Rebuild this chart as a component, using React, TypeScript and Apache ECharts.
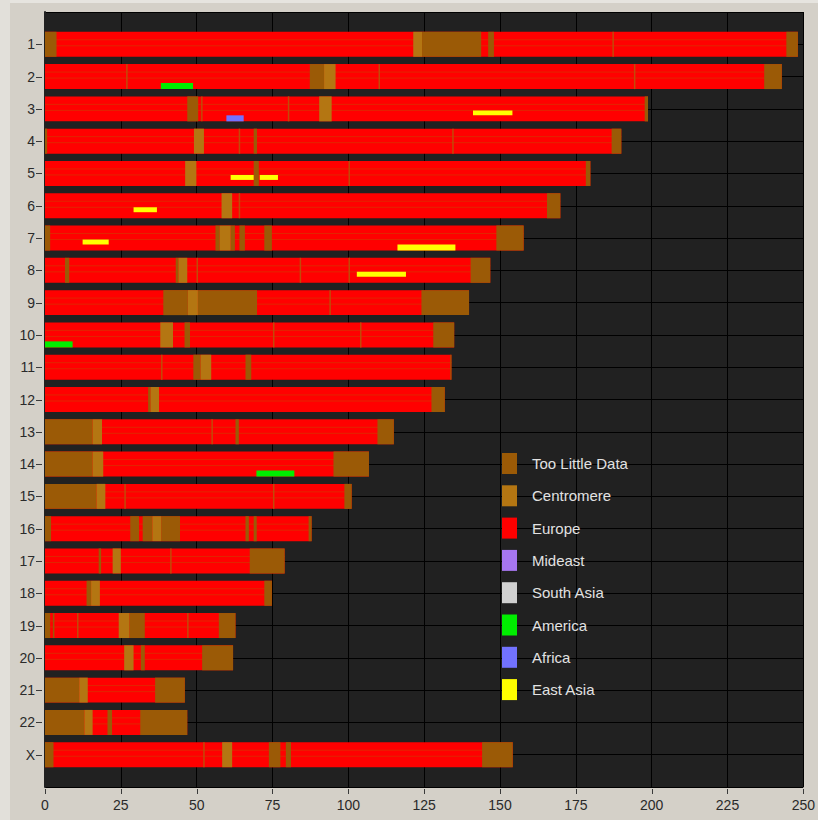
import React, { useEffect, useRef } from "react";
import * as echarts from "echarts";

// ---------- data ----------
const chromosomes = ["1","2","3","4","5","6","7","8","9","10","11","12","13","14","15","16","17","18","19","20","21","22","X"];
const chromLengths = [248.2, 242.9, 198.8, 190, 179.8, 169.9, 157.8, 146.8, 139.8, 134.9, 134, 131.8, 115, 106.8, 101.1, 87.9, 79, 74.8, 62.8, 62, 46.1, 46.9, 154.2];

const legendNames = ["Too Little Data", "Centromere", "Europe", "Mideast", "South Asia", "America", "Africa", "East Asia"];
const legendColors = ["#9b5a06", "#b47612", "#ff0000", "#a676f0", "#d0d0d0", "#00ee00", "#7272ff", "#ffff00"];

// [chromosome, start, end]
const tooLittleData: [string, number, number][] = [
  ["1", 0, 3.8], ["1", 124.3, 143.8], ["1", 146.1, 148], ["1", 244.4, 248.2],
  ["2", 87.3, 92], ["2", 237.1, 242.9],
  ["3", 46.9, 50.5], ["3", 197.7, 198.8],
  ["4", 0, 0.7], ["4", 68.8, 69.9], ["4", 186.8, 190],
  ["5", 68.8, 70.5], ["5", 178.3, 179.8],
  ["6", 165.5, 169.9],
  ["7", 0, 1.7], ["7", 56.2, 57.6], ["7", 61.2, 62.6], ["7", 64.1, 65.9], ["7", 72.3, 74.8], ["7", 148.8, 157.8],
  ["8", 6.6, 8], ["8", 43.1, 44], ["8", 140.3, 146.8],
  ["9", 39, 47.1], ["9", 50.4, 69.9], ["9", 124.1, 139.8],
  ["10", 46, 47.8], ["10", 128, 134.9],
  ["11", 48.9, 51.3], ["11", 66.1, 68], ["11", 133.6, 134],
  ["12", 34, 34.8], ["12", 127.4, 131.8],
  ["13", 0, 15.7], ["13", 62.8, 63.9], ["13", 109.6, 115],
  ["14", 0, 15.7], ["14", 95.1, 106.8],
  ["15", 0, 17], ["15", 98.7, 101.1],
  ["16", 0, 2], ["16", 28.1, 31], ["16", 32.2, 35.4], ["16", 38.3, 44.5], ["16", 66.1, 67.2], ["16", 68.8, 69.8], ["16", 86.9, 87.9],
  ["17", 17.7, 18.5], ["17", 67.5, 79],
  ["18", 13.7, 15.2], ["18", 72.3, 74.8],
  ["19", 0, 1.7], ["19", 2.6, 3.1], ["19", 27.8, 32.9], ["19", 57.3, 62.8],
  ["20", 31.6, 32.9], ["20", 51.8, 62],
  ["21", 0, 11.3], ["21", 36.3, 46.1],
  ["22", 0, 13], ["22", 20.6, 22.1], ["22", 31.4, 46.9],
  ["X", 0, 2.8], ["X", 73.8, 77.6], ["X", 79.4, 81.1], ["X", 144.1, 154.2],
];

const centromere: [string, number, number][] = [
  ["1", 121.4, 124.3], ["2", 92, 95.8], ["3", 90.4, 94.5], ["4", 49.1, 52.4], ["5", 46.2, 49.9],
  ["6", 58.2, 61.7], ["7", 57.6, 61.2], ["8", 44, 46.9], ["9", 47.1, 50.4], ["10", 38, 42.2],
  ["11", 51.3, 54.8], ["12", 34.8, 37.6], ["13", 15.7, 18.8], ["14", 15.7, 19.2], ["15", 17, 19.9],
  ["16", 35.4, 38.3], ["17", 22.3, 25], ["18", 15.2, 18.1], ["19", 24.3, 27.8], ["20", 26.1, 29.2],
  ["21", 11.3, 14.1], ["22", 13, 15.7], ["X", 58.4, 61.7],
];

// thin segment boundaries inside the painted bars: [chromosome, position]
const breakpoints: [string, number][] = [
  ["1", 187.3], ["2", 27], ["2", 110.2], ["2", 194.4], ["3", 51.7], ["3", 80.3],
  ["4", 64.1], ["4", 134.5], ["5", 100.3], ["6", 64.1], ["8", 50.2], ["8", 84.2], ["8", 100.3],
  ["9", 94], ["10", 75.4], ["10", 104.1], ["11", 38.5], ["13", 55.1], ["15", 26.4], ["15", 75.4],
  ["17", 41.5], ["19", 10.8], ["19", 47.1], ["X", 52.4],
];

// [chromosome, start, end, lane]  lane 1 = just below centre, lane 2 = lower edge
const mideast: [string, number, number, number][] = [];
const southAsia: [string, number, number, number][] = [];
const america: [string, number, number, number][] = [["2", 38.2, 48.8, 2], ["10", 0, 9.1, 2], ["14", 69.7, 82.2, 2]];
const africa: [string, number, number, number][] = [["3", 59.8, 65.5, 2]];
const eastAsia: [string, number, number, number][] = [
  ["3", 141.1, 154.1, 1], ["5", 61.2, 68.8, 1], ["5", 70.8, 76.8, 1], ["6", 29.2, 36.9, 1],
  ["7", 12.4, 21, 1], ["7", 116.2, 135.3, 2], ["8", 102.8, 119, 1],
];

const xTicks = [0, 25, 50, 75, 100, 125, 150, 175, 200, 225, 250];

// ---------- helpers ----------
const rowOf = (c: string) => chromosomes.indexOf(c) + 1;
const HALF = 0.387; // half bar height in row units
const LANES: Record<number, [number, number]> = { 0: [-HALF, HALF], 1: [0.047, 0.2], 2: [0.2, HALF] };

function band(api: any, row: number, s: number, e: number, o0: number, o1: number) {
  const a = api.coord([s, row]);
  const b = api.coord([e, row]);
  const unit = api.size([0, 1])[1];
  return { x: a[0], y: a[1] + o0 * unit, width: b[0] - a[0], height: (o1 - o0) * unit };
}

function segSeries(name: string, color: string, data: any[], z: number, withLines = false) {
  return {
    type: "custom",
    name,
    z,
    itemStyle: { color },
    encode: { x: [1, 2], y: 0 },
    data: data.map((d) => [rowOf(d[0]), d[1], d[2], d[3] ?? 0]),
    renderItem: (params: any, api: any) => {
      const row = api.value(0), s = api.value(1), e = api.value(2), lane = api.value(3);
      const [o0, o1] = LANES[lane] || LANES[0];
      const r = band(api, row, s, e, o0, o1);
      const rect = { type: "rect", shape: r, style: { fill: color } };
      if (!withLines) return rect;
      const unit = api.size([0, 1])[1];
      const c = api.coord([s, row])[1];
      const mk = (off: number) => ({
        type: "line",
        shape: { x1: r.x, y1: c + off * unit, x2: r.x + r.width, y2: c + off * unit },
        style: { stroke: "rgba(200,70,0,0.55)", lineWidth: 1 },
      });
      return { type: "group", children: [rect, mk(-0.14), mk(0.047)] };
    },
  };
}

export default function App() {
  const ref = useRef<HTMLDivElement>(null);
  useEffect(() => {
    if (!ref.current) return;
    const chart = echarts.init(ref.current, undefined, { renderer: "svg" });
    const font = "'Liberation Sans', Arial, sans-serif";
    const europe = chromosomes.map((c, i) => [c, 0, chromLengths[i], 0]);
    chart.setOption({
      animation: false,
      backgroundColor: "#d4d0c8",
      graphic: [
        { type: "rect", left: 0, top: 0, shape: { width: 818, height: 3 }, style: { fill: "#e6e4df" }, silent: true, z: -10 },
        { type: "rect", left: 0, top: 0, shape: { width: 10, height: 820 }, style: { fill: "#e2e0da" }, silent: true, z: -10 },
      ],
      grid: { left: 45, right: 11, top: 12, bottom: 33, show: true, backgroundColor: "#212121", borderWidth: 0 },
      legend: {
        data: legendNames,
        orient: "vertical",
        left: 502,
        top: 453,
        padding: 0,
        itemWidth: 15,
        itemHeight: 21,
        itemGap: 11.3,
        icon: "rect",
        selectedMode: false,
        textStyle: { color: "#e2e2e2", fontSize: 15, fontFamily: font, padding: [0, 0, 0, 10] },
      },
      xAxis: {
        type: "value",
        min: 0,
        max: 250,
        interval: 25,
        axisLine: { show: false },
        axisTick: { show: false },
        axisLabel: { margin: 11, fontSize: 14, color: "#2a2a2a", fontFamily: font },
        splitLine: { show: true, lineStyle: { color: "#000", width: 1 } },
      },
      yAxis: {
        type: "value",
        inverse: true,
        min: 0,
        max: 24,
        interval: 1,
        offset: 2,
        axisLine: { show: true, lineStyle: { color: "#212121", width: 2 } },
        axisTick: { show: false },
        axisLabel: {
          margin: 8,
          fontSize: 14,
          color: "#2a2a2a",
          fontFamily: font,
          formatter: (v: number) => chromosomes[v - 1] ?? "",
        },
        splitLine: { show: true, lineStyle: { color: "#000", width: 1 } },
      },
      series: [
        segSeries("Europe", legendColors[2], europe, 2, true),
        segSeries("Too Little Data", legendColors[0], tooLittleData, 3),
        segSeries("Centromere", legendColors[1], centromere, 3),
        {
          type: "custom",
          name: "breaks",
          z: 3,
          encode: { x: 1, y: 0 },
          data: breakpoints.map((d) => [rowOf(d[0]), d[1]]),
          renderItem: (params: any, api: any) => {
            const row = api.value(0), p = api.value(1);
            const r = band(api, row, p, p, -HALF, HALF);
            return {
              type: "line",
              shape: { x1: r.x, y1: r.y, x2: r.x, y2: r.y + r.height },
              style: { stroke: "#c24a08", lineWidth: 1.5 },
            };
          },
        },
        segSeries("Mideast", legendColors[3], mideast, 4),
        segSeries("South Asia", legendColors[4], southAsia, 4),
        segSeries("America", legendColors[5], america, 4),
        segSeries("Africa", legendColors[6], africa, 4),
        segSeries("East Asia", legendColors[7], eastAsia, 4),
        {
          // y-axis tick marks ("1-", "2-", ...)
          type: "custom",
          name: "yTicks",
          z: 5,
          clip: false,
          silent: true,
          encode: { x: 1, y: 0 },
          data: chromosomes.map((c) => [rowOf(c), 0]),
          renderItem: (params: any, api: any) => {
            const p = api.coord([api.value(1), api.value(0)]);
            return {
              type: "line",
              shape: { x1: p[0] - 9, y1: Math.round(p[1]) + 0.5, x2: p[0] - 3, y2: Math.round(p[1]) + 0.5 },
              style: { stroke: "#3a3a3a", lineWidth: 1 },
            };
          },
        },
        {
          // x-axis tick marks
          type: "custom",
          name: "xTicks",
          z: 5,
          clip: false,
          silent: true,
          encode: { x: 0, y: 1 },
          data: xTicks.map((v) => [v, 24]),
          renderItem: (params: any, api: any) => {
            const p = api.coord([api.value(0), api.value(1)]);
            const x = Math.round(p[0]) + 0.5;
            return {
              type: "line",
              shape: { x1: x, y1: p[1] + 2, x2: x, y2: p[1] + 7 },
              style: { stroke: "#3a3a3a", lineWidth: 1 },
            };
          },
        },
      ],
    });
    return () => chart.dispose();
  }, []);
  return <div ref={ref} style={{ position: "fixed", left: 0, top: 0, width: 818, height: 820 }} />;
}
